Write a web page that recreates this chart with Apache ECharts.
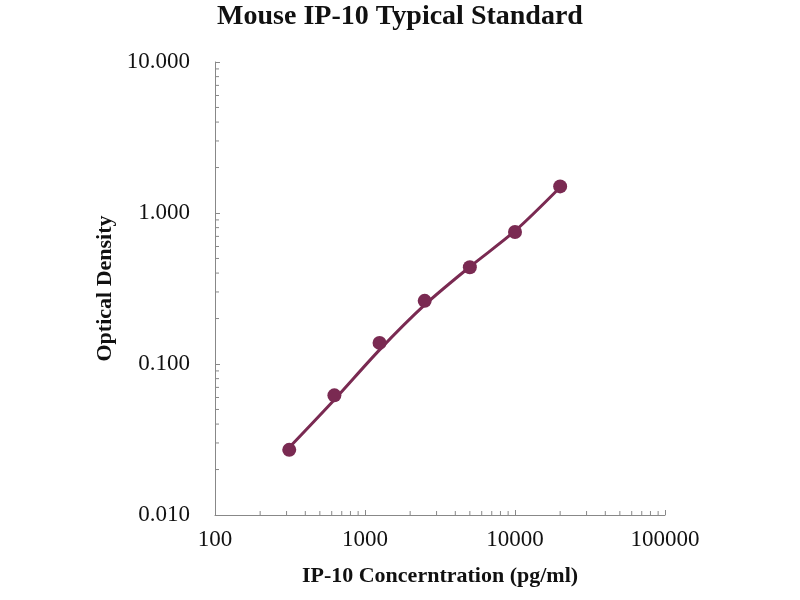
<!DOCTYPE html>
<html>
<head>
<meta charset="utf-8">
<script src="https://cdn.jsdelivr.net/npm/echarts@6/dist/echarts.min.js"></script>
<style>html,body{margin:0;padding:0;background:#fff}#c{width:800px;height:600px}</style>
</head>
<body>
<div id="c"></div>
<script>
// Data
const concentrations = [312.5, 625, 1250, 2500, 5000, 10000, 20000];
const opticalDensity = [0.027, 0.062, 0.138, 0.262, 0.437, 0.748, 1.5];
const trendDensity = [0.028, 0.058, 0.124, 0.246, 0.44, 0.76, 1.48];
const xTickLabels = ['100', '1000', '10000', '100000'];
const yTickLabels = ['0.010', '0.100', '1.000', '10.000'];
const xMinorTicks = [200,300,400,500,600,700,800,900,2000,3000,4000,5000,6000,7000,8000,9000,20000,30000,40000,50000,60000,70000,80000,90000];
const yMinorTicks = [0.02,0.03,0.04,0.05,0.06,0.07,0.08,0.09,0.2,0.3,0.4,0.5,0.6,0.7,0.8,0.9,2,3,4,5,6,7,8,9];

const X_MIN = 100, X_MAX = 100000, Y_MIN = 0.01, Y_MAX = 10;
const color = '#7a2a52';
const axisColor = '#888';
const font = '"Liberation Serif", "Times New Roman", serif';

const chart = echarts.init(document.getElementById('c'));
chart.setOption({
  animation: false,
  backgroundColor: '#fff',
  title: {
    text: 'Mouse IP-10 Typical Standard',
    left: 'center', top: -2,
    textStyle: { fontFamily: font, fontSize: 28, fontWeight: 'bold', color: '#111' }
  },
  grid: { left: 215, right: 135, top: 62, bottom: 85 },
  xAxis: {
    type: 'log', logBase: 10, min: X_MIN, max: X_MAX,
    name: 'IP-10 Concerntration (pg/ml)', nameLocation: 'middle', nameGap: 50,
    nameTextStyle: { fontFamily: font, fontSize: 22, fontWeight: 'bold', color: '#111' },
    axisLine: { show: true, lineStyle: { color: axisColor, width: 1 } },
    axisTick: { show: true, inside: true, length: 5, lineStyle: { color: axisColor } },
    splitLine: { show: false },
    axisLabel: {
      fontFamily: font, fontSize: 23, color: '#111', margin: 13,
      formatter: v => { const i = Math.round(Math.log10(v)) - 2; return xTickLabels[i] !== undefined ? xTickLabels[i] : ''; }
    }
  },
  yAxis: {
    type: 'log', logBase: 10, min: Y_MIN, max: Y_MAX,
    name: 'Optical Density', nameLocation: 'middle', nameGap: 90,
    nameTextStyle: { fontFamily: font, fontSize: 22, fontWeight: 'bold', color: '#111' },
    axisLine: { show: true, lineStyle: { color: axisColor, width: 1 } },
    axisTick: { show: true, inside: true, length: 5, lineStyle: { color: axisColor } },
    splitLine: { show: false },
    axisLabel: {
      fontFamily: font, fontSize: 23, color: '#111', margin: 25,
      formatter: v => { const i = Math.round(Math.log10(v)) + 2; return yTickLabels[i] !== undefined ? yTickLabels[i] : ''; }
    }
  },
  series: [
    {
      type: 'custom', silent: true, clip: false,
      data: xMinorTicks.map(v => [v, Y_MIN]),
      renderItem: (params, api) => {
        const p = api.coord([api.value(0), api.value(1)]);
        return { type: 'line', shape: { x1: p[0], y1: p[1], x2: p[0], y2: p[1] - 4 }, style: { stroke: axisColor, lineWidth: 1 } };
      }
    },
    {
      type: 'custom', silent: true, clip: false,
      data: yMinorTicks.map(v => [X_MIN, v]),
      renderItem: (params, api) => {
        const p = api.coord([api.value(0), api.value(1)]);
        return { type: 'line', shape: { x1: p[0], y1: p[1], x2: p[0] + 4, y2: p[1] }, style: { stroke: axisColor, lineWidth: 1 } };
      }
    },
    {
      name: 'Trend', type: 'line', smooth: 0.3, showSymbol: false,
      data: concentrations.map((c, i) => [c, trendDensity[i]]),
      lineStyle: { color: color, width: 3 }, z: 3
    },
    {
      name: 'Standard', type: 'scatter', symbol: 'circle', symbolSize: 14,
      data: concentrations.map((c, i) => [c, opticalDensity[i]]),
      itemStyle: { color: color, opacity: 1 }, z: 4
    }
  ]
});
</script>
</body>
</html>
